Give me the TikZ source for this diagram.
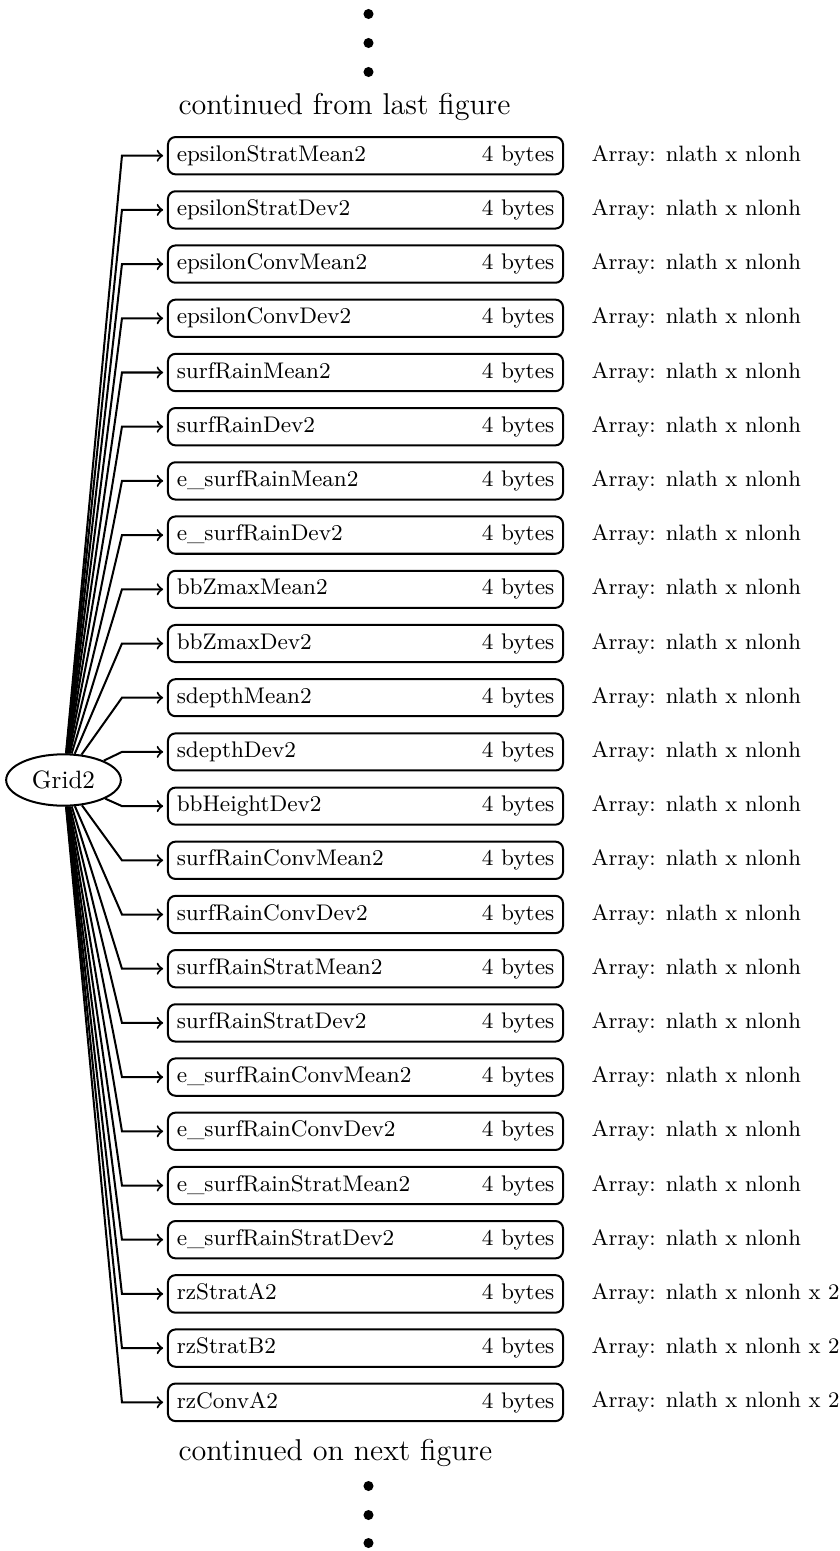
\documentclass[tikz,border=0pt]{standalone}
\usetikzlibrary{calc,shapes.geometric}
\begin{document}
\begin{tikzpicture}[x=0.3984pt,y=-0.3984pt,
  box/.style={draw,thick,rounded corners=3pt,minimum height=13.9pt,inner xsep=3.5pt,font=\small},
  arrtext/.style={anchor=west,inner sep=0pt,font=\fontsize{8.85}{10.6}\selectfont},
  conn/.style={thick,->,shorten >=1.5pt},
  dotnode/.style={circle,fill,inner sep=0pt,minimum size=4pt},
  contd/.style={anchor=base west,inner sep=0pt,font=\large}]
\useasboundingbox (0,0) rectangle (840,1551);
\foreach \k/\yy in {1/14,2/43,3/72} \node[dotnode] (t\k) at (368.5,\yy) {};
\foreach \k/\yy in {1/1486,2/1515,3/1543} \node[dotnode] (u\k) at (368.5,\yy) {};
\node[contd] (cf) at (178,115) {continued from last figure};
\node[contd] (cn) at (178,1460) {continued on next figure};
\node[ellipse,draw,thick,inner sep=3.6pt] (g) at (63.5,780) {Grid2};
\foreach \i/\nm/\ar in {
  0/epsilonStratMean2/{nlath x nlonh},
  1/epsilonStratDev2/{nlath x nlonh},
  2/epsilonConvMean2/{nlath x nlonh},
  3/epsilonConvDev2/{nlath x nlonh},
  4/surfRainMean2/{nlath x nlonh},
  5/surfRainDev2/{nlath x nlonh},
  6/e\_surfRainMean2/{nlath x nlonh},
  7/e\_surfRainDev2/{nlath x nlonh},
  8/bbZmaxMean2/{nlath x nlonh},
  9/bbZmaxDev2/{nlath x nlonh},
  10/sdepthMean2/{nlath x nlonh},
  11/sdepthDev2/{nlath x nlonh},
  12/bbHeightDev2/{nlath x nlonh},
  13/surfRainConvMean2/{nlath x nlonh},
  14/surfRainConvDev2/{nlath x nlonh},
  15/surfRainStratMean2/{nlath x nlonh},
  16/surfRainStratDev2/{nlath x nlonh},
  17/e\_surfRainConvMean2/{nlath x nlonh},
  18/e\_surfRainConvDev2/{nlath x nlonh},
  19/e\_surfRainStratMean2/{nlath x nlonh},
  20/e\_surfRainStratDev2/{nlath x nlonh},
  21/rzStratA2/{nlath x nlonh x 2},
  22/rzStratB2/{nlath x nlonh x 2},
  23/rzConvA2/{nlath x nlonh x 2}} {
  \pgfmathsetmacro\yy{155.7+\i*54.2}
  \node[box] (b\i) at (365.5,\yy) {\hbox to 150.4pt{\nm\hfill 4 bytes}};
  \node[arrtext] (a\i) at (591,\yy) {Array: \ar};
  \draw[conn] (g) -- ($(b\i.west)+(-45,0)$) -- (b\i.west);
}
\end{tikzpicture}
\end{document}
